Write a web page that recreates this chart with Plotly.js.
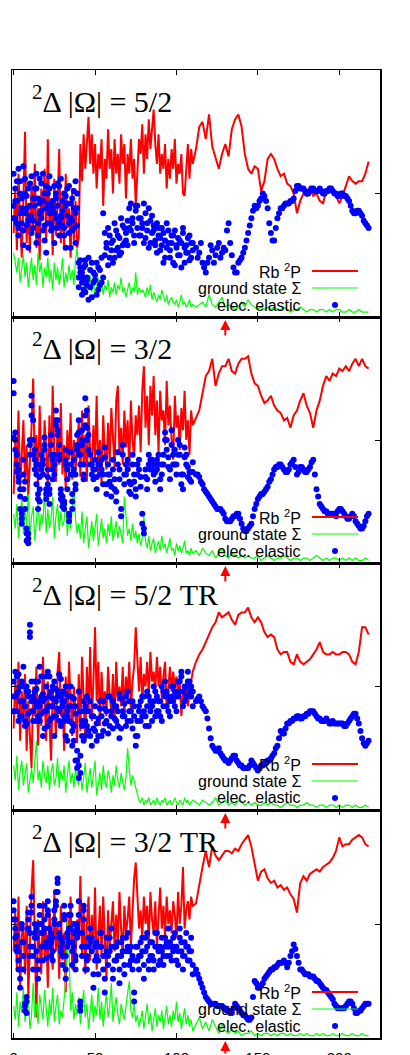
<!DOCTYPE html>
<html>
<head>
<meta charset="utf-8">
<script src="https://cdn.plot.ly/plotly-3.0.1.min.js"></script>
<style>
  body { margin: 0; background: #fff; }
  #chart { width: 410px; height: 1055px; }
</style>
</head>
<body>
<div id="chart"></div>
<script>
// sample grid: every unit up to 110, then every 2 units (odd units for the dense elastic curve)
const X_LO = [0,1,2,3,4,5,6,7,8,9,10,11,12,13,14,15,16,17,18,19,20,21,22,23,24,25,26,27,28,29,
  30,31,32,33,34,35,36,37,38,39,40,41,42,43,44,45,46,47,48,49,50,51,52,53,54,55,56,57,58,59,
  60,61,62,63,64,65,66,67,68,69,70,71,72,73,74,75,76,77,78,79,80,81,82,83,84,85,86,87,88,89,
  90,91,92,93,94,95,96,97,98,99,100,101,102,103,104,105,106,107,108,109,110];
const X_HI = [112,114,116,118,120,122,124,126,128,130,132,134,136,138,140,142,144,146,148,150,
  152,154,156,158,160,162,164,166,168,170,172,174,176,178,180,182,184,186,188,190,
  192,194,196,198,200,202,204,206,208,210,212,214,216,218];
const X_ODD = [113,115,117,119,121,123,125,127,129,131,133,135,137,139,141,143,145,147,149,151,
  153,155,157,159,161,163,165,167,169,171,173,175,177,179,181,183,185,187,189,191,
  193,195,197,199,201,203,205,207,209,211,213,215,217];

const TITLES = ['<sup>2</sup>Δ |Ω| = 5/2', '<sup>2</sup>Δ |Ω| = 3/2',
  '<sup>2</sup>Δ |Ω| = 5/2 TR', '<sup>2</sup>Δ |Ω| = 3/2 TR'];
const KEY_LABELS = ['Rb <sup>2</sup>P', 'ground state Σ', 'elec. elastic'];
const ARROW_X = 130;

// ---- panel 1: 5/2
const rb1Lo = [34,52,27,58,38,24,48,75,30,46,26,55,35,62,28,44,23,52,40,60,30,72,36,48,25,56,33,45,68,30,50,27,58,36,44,24,52,31,47,28,
  32,70,55,74,60,70,81,62,74,58,70,52,66,60,72,45,64,56,76,60,68,50,72,58,66,54,74,62,70,48,66,58,72,56,64,45,
  60,72,66,78,58,74,64,80,68,76,84,70,62,74,58,66,60,70,52,64,56,68,60,72,54,62,58,66,50,49,62,70,56,68,62];
const rb1Hi = [68,77,79,72,82,69,64,60,66,70,65,76,80,82,77,66,60,58,61,60,51,55,64,66,64,60,57,58,54,53,
  50,42,47,50,49,53,49,50,47,46,51,53,50,49,46,49,53,57,55,54,55,55,58,63];
const gs1Lo = [26,22,18,24,14,20,25,16,22,12,19,24,15,21,13,26,18,22,12,20,16,24,14,19,11,22,15,20,13,17,24,12,18,14,21,15,19,13,23,28,
  18,14,20,11,16,9,13,17,10,15,8,12,16,10,14,9,13,11,15,8,12,10,14,9,13,11,16,10,12,8,11,14,9,12,10,18,
  9,12,10,11,10,8,12,9,13,7,10,8,6,9,7,11,8,6,9,5,7,8,6,5,7,4,6,9,5,6,4,5,7,4,5];
const gs1Hi = [4,5,6,4,9,5,4,6,8,4,5,4,3,4,6,4,7,5,4,3,4,3,4,3,4,3,3,4,3,2,3,3,4,3,2,3,3,2,3,3,2,3,2,3,3,2,2,3,2,2,3,2,2,2];
const el1Lo = [45,52,38,60,42,48,35,50,44,39,54,41,36,48,52,33,46,40,58,37,44,50,42,35,47,53,40,45,38,56,43,36,49,41,34,46,39,51,30,44,
  22,18,14,20,10,16,24,12,8,18,15,22,11,19,14,42,25,30,21,33,27,31,24,35,28,32,26,37,30,34,29,36,46,38,33,43,
  36,40,33,38,30,42,35,28,39,34,37,31,26,36,32,29,34,24,38,30,27,33,22,35,29,25,31,20,34,28,26,32,23,30,27];
const el1Hi = [28,26,22,18,24,27,25,30,26,27,38,25,18,22,24,28,34,40,45,45,48,49,44,34,31,40,44,45,46,47,
  48,53,52,52,50,51,52,51,52,50,51,52,51,50,49,50,49,47,43,42,43,41,38,36];
const el1Odd = [24,30,20,22,29,22,28,24,28,35,30,20,18,23,26,31,37,43,44,47,50,47,38,31,36,42,44,46,46,47,
  51,53,52,51,50,52,51,51,51,50,51,52,50,49,50,49,48,45,42,43,42,39,37];
const el1B = [58,40,47,33,55,38,61,42,49,28,45,57,39,52,30,48,56,43,35,50,26,46,52,38,44,30,50,36,53,40,47,33,45,52,38,28,48,36,42,50,
  12,20,9,16,23,13,7,19,22,14,17,9,20,13,24,16,34,28,36,24,30,22,38,27,33,25,40,29,36,31,39,44,35,40,30,45,
  45,33,40,36,46,32,38,44,30,41,35,29,38,33,27,36,22,31,28,35,24,30,33,21,28,32,25,30,36,22,29,26,33,24,30];
const el1C = [40,47,55,36,50,44,29,56,37,52,41,34,48,45,58,38,42,54,47,31,53,38,57,45,36,42,48,54,33,41,37,50,28,46,53,40,35,44,55,37,16,23,18,11,21,15];

// ---- panel 2: 3/2
const rb2Lo = [28,50,36,62,30,44,58,33,48,27,40,55,75,38,52,30,64,42,35,58,46,31,60,37,72,45,33,56,40,65,36,48,30,54,42,61,34,50,38,45,
  58,35,62,40,52,33,64,44,38,56,42,68,36,50,32,60,45,38,57,41,63,48,39,66,72,44,55,40,62,47,58,38,66,50,43,60,
  52,64,45,70,80,55,68,48,72,60,76,52,66,45,70,58,62,48,74,56,64,50,42,68,55,60,46,63,54,70,50,58,44,62,56];
const rb2Hi = [59,62,69,76,78,83,72,77,80,80,83,78,77,81,83,83,84,77,73,72,68,65,66,68,64,62,61,58,59,55,
  60,62,66,69,64,61,55,62,66,72,76,74,77,76,79,78,80,78,81,83,80,83,80,79];
const gs2Lo = [20,14,24,10,18,26,12,21,15,28,11,19,23,9,17,25,13,20,16,30,12,22,14,18,27,10,19,24,13,21,15,17,26,11,20,14,22,32,18,12,
  16,10,21,8,14,19,6,12,17,9,15,20,7,13,18,10,14,8,16,11,19,9,13,17,10,15,12,8,27,18,11,14,9,16,10,13,
  8,12,7,10,19,9,6,11,5,8,10,4,7,9,5,11,6,8,4,7,10,5,6,3,8,5,7,4,6,9,4,5,3,6,4];
const gs2Hi = [5,3,6,4,3,5,2,4,6,3,2,4,3,2,3,2,3,2,2,3,1,2,3,2,1,2,2,3,2,1,2,2,1,2,2,1,2,3,2,1,2,1,2,2,1,2,1,2,1,2,1,1,2,1];
const el2Lo = [74,50,44,38,30,20,42,26,12,8,48,68,58,46,40,28,25,38,36,51,30,32,24,52,42,40,62,58,48,26,23,22,46,34,17,40,25,42,36,52,
  58,48,54,40,67,62,52,44,40,38,42,35,45,40,38,36,47,32,40,36,27,42,34,29,45,38,19,48,36,40,42,33,28,44,36,30,
  40,38,31,16,12,35,30,44,38,42,40,33,38,44,30,36,40,53,50,43,38,54,40,46,36,50,44,32,36,47,40,39,34,37,41];
const el2Hi = [36,35,32,29,27,25,23,22,21,18,17,18,19,20,16,13,14,16,22,26,28,29,31,34,38,39,40,38,37,40,
  42,36,39,38,37,39,42,30,24,22,21,20,20,19,22,21,19,18,20,17,15,14,17,20];
const el2Odd = [36,33,30,28,26,24,22,22,20,17,17,19,20,18,14,13,15,19,24,27,28,30,33,36,39,40,39,37,38,41,
  39,37,39,37,38,41,36,27,23,21,20,20,20,21,22,20,18,19,19,16,14,15,19];
const el2B = [69,46,40,33,27,16,36,22,9,12,44,60,50,38,32,22,30,44,40,46,26,38,28,48,34,44,56,52,42,30,27,25,40,30,20,45,28,36,30,46,
  53,44,48,36,60,55,46,40,36,34,38,30,40,36,42,32,43,28,36,33,31,38,30,25,40,34,22,44,32,36,38,29,32,40,33,27,
  36,42,35,20,14,38,34,40,42,38,36,37,42,40,34,40,44,50,46,39,34,48,44,40,40,44,48,36,30,43,44,35,37,33,37];
const el2C = [51,53,37,35,22,18,30,33,14,10,50,64,44,42,36,26,35,40,42,48,28,35,30,44,38,36,58,54,44,28,25,24,42,38,19,36,22,38,32,48,44,40,50,34,56,50];

// ---- panel 3: 5/2 TR
const rb3Lo = [33,52,40,60,28,48,36,55,24,44,30,17,50,38,58,26,46,34,62,40,28,52,36,20,48,42,30,56,64,38,46,24,54,35,60,42,30,50,38,27,
  55,32,62,45,28,58,40,66,36,52,74,44,60,34,56,42,48,38,58,46,40,55,36,60,44,50,42,58,38,54,46,60,40,52,58,74,
  58,48,62,44,55,50,60,46,64,52,56,48,62,50,58,45,54,60,41,52,58,48,56,50,54,46,52,38,48,44,50,42,48,52,56];
const rb3Hi = [60,63,65,68,71,74,76,80,78,79,80,77,75,79,80,80,82,78,76,78,76,72,70,71,70,65,63,64,64,60,
  59,63,60,59,60,61,63,65,68,64,63,63,64,63,63,64,64,63,60,59,64,74,74,71];
const gs3Lo = [18,12,22,8,16,20,10,14,19,7,13,17,11,21,28,12,16,9,20,14,11,18,8,15,19,10,13,21,9,16,12,18,7,14,20,11,15,9,17,12,
  10,16,8,13,19,7,12,17,9,14,20,6,11,15,8,18,12,9,16,13,7,14,10,18,12,9,15,11,8,13,25,17,10,14,12,9,
  6,4,3,5,2,4,3,5,2,3,4,2,5,3,2,4,3,5,2,3,4,2,3,5,3,2,4,3,2,5,3,4,2,3,4];
const gs3Hi = [3,2,4,3,2,3,5,2,3,4,2,3,2,4,3,2,3,2,3,2,2,3,2,3,2,2,1,2,3,2,2,1,2,2,3,2,2,1,2,2,1,2,2,1,2,1,2,2,1,2,1,1,2,1];
const el3Lo = [52,46,40,55,44,38,50,42,35,48,75,40,46,52,36,44,58,39,47,33,50,42,54,37,45,30,49,41,36,53,44,38,47,28,42,50,35,45,39,24,
  18,15,36,28,42,34,40,30,26,38,32,28,37,41,30,44,35,40,31,46,38,33,42,36,40,29,45,38,43,34,48,40,36,44,38,26,
  30,42,36,46,40,38,48,34,44,42,50,38,46,40,44,36,48,52,42,46,38,50,44,48,40,46,52,54,48,44,50,56,52,46,48];
const el3Hi = [44,46,42,40,33,26,24,25,22,20,19,21,22,19,18,17,17,20,18,16,18,19,20,21,23,26,32,31,35,36,
  37,38,37,38,39,40,40,38,37,36,37,35,36,35,35,35,34,36,38,39,35,29,26,28];
const el3Odd = [45,44,41,37,29,25,24,23,21,20,20,22,20,18,17,17,18,19,17,17,18,19,20,22,25,29,31,33,35,36,
  37,38,37,38,39,40,39,37,36,36,36,35,35,35,35,34,35,37,39,37,32,27,27];
const el3B = [40,56,47,36,50,44,58,34,48,39,70,52,36,44,49,38,42,54,30,45,40,56,36,48,42,52,38,46,55,34,48,44,30,40,36,46,32,28,42,20,
  13,22,30,40,36,46,32,44,38,33,42,35,30,44,38,32,41,36,46,34,40,44,37,42,34,47,33,40,38,46,36,44,40,33,42,30,
  36,40,44,38,46,34,42,46,40,36,44,48,40,44,38,50,42,46,48,40,44,46,50,42,46,52,48,56,42,50,46,52,48,50,42];
const el3C = [46,40,54,48,38,52,44,36,50,46,72,44,40,48,42,52,36,46,44,40,54,34,46,42,50,38,44,48,40,46,42,36,50,38,46,42,26,34,20,17,48,40,34,44,30,40];

// ---- panel 4: 3/2 TR
const rb4Lo = [38,55,30,62,22,45,50,28,58,18,40,65,78,35,9,52,42,28,60,36,48,22,56,40,30,64,38,50,26,58,34,46,20,55,40,62,30,48,36,52,
  44,71,36,58,28,50,62,34,54,40,66,30,48,58,36,62,44,26,56,40,50,60,38,54,42,64,48,36,58,46,52,62,40,56,70,77,
  60,48,56,44,62,50,58,42,64,52,46,60,40,54,66,48,58,44,62,50,56,46,60,54,44,64,50,58,75,48,56,60,52,62,58];
const rb4Hi = [59,68,75,82,75,84,80,78,80,82,82,81,83,82,85,87,89,84,77,69,73,74,70,68,69,66,67,65,66,63,
  61,55,68,71,69,72,73,74,73,75,76,77,79,82,88,84,85,85,87,88,89,88,85,84];
const gs4Lo = [14,8,20,5,16,11,22,7,13,18,4,10,24,9,15,6,19,12,8,21,13,5,17,10,22,7,14,19,6,12,9,16,25,53,40,12,20,8,15,10,
  18,6,13,21,9,15,4,12,19,7,14,10,22,8,16,5,12,20,9,14,24,7,13,18,10,6,15,11,8,14,19,25,12,9,15,7,
  10,5,8,12,4,9,15,6,11,3,8,13,5,10,7,12,4,9,14,6,10,5,12,8,16,7,11,4,9,13,6,10,5,8,3];
const gs4Hi = [6,9,4,7,3,8,5,2,6,3,2,4,2,3,1,2,2,3,1,2,1,2,2,1,2,1,2,2,1,2,1,1,2,1,2,1,1,2,1,2,1,1,2,1,1,2,1,1,2,1,1,2,1,1];
const el4Lo = [60,52,45,38,30,48,42,12,16,55,40,62,36,50,44,30,58,46,40,52,35,60,48,42,38,56,64,70,50,44,36,58,26,40,48,54,38,46,30,44,
  60,12,40,52,36,30,44,48,38,22,34,42,28,46,40,36,20,44,32,38,48,26,40,34,42,30,36,44,28,38,46,32,40,36,16,34,
  40,30,36,44,26,38,46,34,42,36,30,40,46,38,34,44,32,40,36,48,42,34,38,46,40,32,44,38,36,42,40,34,38,44,32];
const el4Hi = [30,26,22,18,16,15,15,14,14,13,12,11,15,13,11,10,8,9,25,22,23,26,28,30,31,32,33,34,31,36,
  41,36,30,29,28,27,27,25,24,22,21,19,17,14,13,13,14,16,15,11,12,13,15,15];
const el4Odd = [28,24,20,17,15,15,14,14,13,12,11,13,14,12,10,9,8,18,24,22,24,27,29,30,31,33,33,33,33,38,
  39,33,30,28,28,27,26,25,23,21,20,18,15,13,13,13,15,16,13,11,12,14,15];
const el4B = [52,44,38,30,26,42,36,15,11,48,46,55,30,44,38,34,50,40,46,58,42,54,40,36,44,50,58,64,44,38,42,52,30,46,54,48,32,40,36,50,
  54,16,46,58,30,36,40,42,44,28,40,36,34,40,46,30,26,38,36,44,40,30,34,40,36,24,42,38,32,44,40,38,34,30,20,40,
  34,36,42,38,32,44,40,30,36,42,34,46,40,32,40,38,36,44,42,40,36,40,44,40,34,38,48,42,30,36,46,40,34,38,28];
const el4C = [56,48,40,34,22,50,30,14,18,52,36,58,40,46,48,26,54,50,34,48,40,56,44,46,34,52,60,68,46,40,32,54,36,44,42,58,42,50,34,48,46,14,36,56,40,34];

const panels = [
  { rb: rb1Lo.concat(rb1Hi), gs: gs1Lo.concat(gs1Hi), el: el1Lo.concat(el1Hi), odd: el1Odd, elB: el1B, elC: el1C },
  { rb: rb2Lo.concat(rb2Hi), gs: gs2Lo.concat(gs2Hi), el: el2Lo.concat(el2Hi), odd: el2Odd, elB: el2B, elC: el2C },
  { rb: rb3Lo.concat(rb3Hi), gs: gs3Lo.concat(gs3Hi), el: el3Lo.concat(el3Hi), odd: el3Odd, elB: el3B, elC: el3C },
  { rb: rb4Lo.concat(rb4Hi), gs: gs4Lo.concat(gs4Hi), el: el4Lo.concat(el4Hi), odd: el4Odd, elB: el4B, elC: el4C }
];
const X = X_LO.concat(X_HI);

// pixel helpers (plot area spans x 12..380, y 70..1038)
const L = 12, W = 368, B = 1038, H = 968;
const px = v => (v - L) / W;
const py = v => (B - v) / H;
const panelTop = [70, 317, 563, 810];
const panelBot = [317, 563, 810, 1038];
const SANS = 'Liberation Sans, Arial, sans-serif';

const traces = [];
const layout = {
  width: 410, height: 1055,
  margin: { l: 12, r: 30, t: 70, b: 17 },
  paper_bgcolor: '#fff', plot_bgcolor: '#fff',
  showlegend: false,
  font: { family: SANS, size: 14, color: '#000' },
  annotations: [], shapes: []
};

panels.forEach((p, i) => {
  const s = i === 0 ? '' : String(i + 1);
  const xa = 'x' + s, ya = 'y' + s;
  traces.push({ x: X, y: p.rb, xaxis: xa, yaxis: ya, type: 'scatter', mode: 'lines',
    line: { color: '#ff0000', width: 2 }, name: 'Rb 2P' });
  traces.push({ x: X, y: p.gs, xaxis: xa, yaxis: ya, type: 'scatter', mode: 'lines',
    line: { color: '#00ff00', width: 1.2 }, name: 'ground state' });
  [[X, p.el], [X_ODD, p.odd], [X_LO, p.elB], [X_LO.slice(0, p.elC.length), p.elC]].forEach(([xs, ys]) => {
    traces.push({ x: xs, y: ys, xaxis: xa, yaxis: ya, type: 'scatter', mode: 'markers',
      marker: { color: '#0000ff', size: 6 }, name: 'elec. elastic' });
  });

  layout['xaxis' + s] = {
    anchor: ya, range: [-1, 225], tickvals: [0, 50, 100, 150, 200],
    ticks: 'inside', ticklen: 5, tickcolor: '#000', tickwidth: 1,
    showline: true, linecolor: '#000', linewidth: 1.5, mirror: 'ticks',
    showgrid: false, zeroline: false, showticklabels: i === 3, ticklabelstandoff: 5,
    tickfont: { family: SANS, size: 15, color: '#000' }
  };
  layout['yaxis' + s] = {
    anchor: xa, domain: [py(panelBot[i]), py(panelTop[i])], range: [0, 100],
    tickvals: [0, 50, 100], ticktext: [i === 3 ? '0' : ' ', '0.5', ' '],
    ticks: 'inside', ticklen: 5, tickcolor: '#000', tickwidth: 1,
    showline: true, linecolor: '#000', linewidth: 1.5, mirror: 'ticks',
    showgrid: false, zeroline: false, ticklabelstandoff: 9,
    tickfont: { family: SANS, size: 14, color: '#000' }
  };

  // panel title
  layout.annotations.push({
    xref: 'paper', yref: 'paper', x: px(30), y: py(panelTop[i] + 8),
    xanchor: 'left', yanchor: 'top', showarrow: false, text: TITLES[i],
    font: { family: 'Liberation Serif, Times New Roman, serif', size: 30, color: '#000' }
  });

  // key, gnuplot style: label then sample
  const rows = [46, 29, 12].map(d => panelBot[i] - d);
  KEY_LABELS.forEach((lab, k) => {
    layout.annotations.push({
      xref: 'paper', yref: 'paper', x: px(303), y: py(rows[k]),
      xanchor: 'right', yanchor: 'middle', showarrow: false, text: lab,
      font: { family: SANS, size: 16, color: '#000' }
    });
  });
  layout.shapes.push({ type: 'line', xref: 'paper', yref: 'paper',
    x0: px(312), x1: px(358), y0: py(rows[0]), y1: py(rows[0]), line: { color: '#ff0000', width: 2 } });
  layout.shapes.push({ type: 'line', xref: 'paper', yref: 'paper',
    x0: px(312), x1: px(358), y0: py(rows[1]), y1: py(rows[1]), line: { color: '#00ff00', width: 1.2 } });
  layout.shapes.push({ type: 'circle', xref: 'paper', yref: 'paper',
    x0: px(332), x1: px(338), y0: py(rows[2] + 3), y1: py(rows[2] - 3),
    fillcolor: '#0000ff', line: { color: '#0000ff', width: 0 } });

  // red marker arrow under the axis
  layout.annotations.push({
    xref: xa, yref: ya, x: ARROW_X, y: 0, text: '', showarrow: true,
    ax: 0, ay: 20, standoff: 3, arrowhead: 2, arrowsize: 1, arrowwidth: 2, arrowcolor: '#ff0000'
  });
});

Plotly.newPlot('chart', traces, layout, { displayModeBar: false, staticPlot: true });
</script>
</body>
</html>
